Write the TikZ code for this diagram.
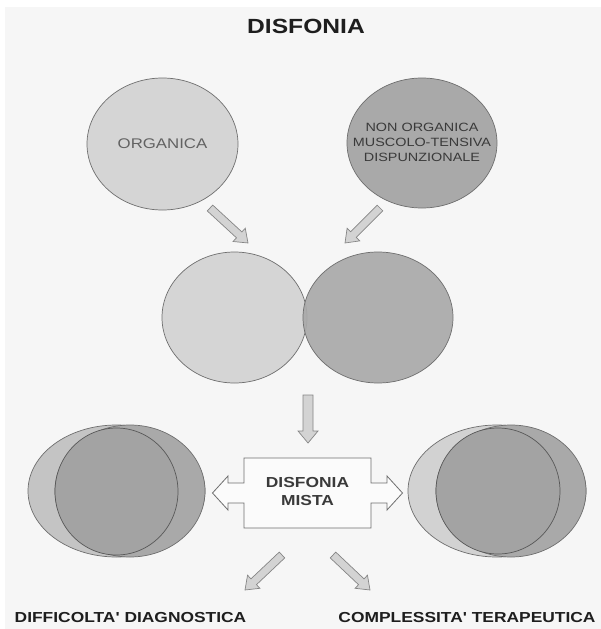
\documentclass[tikz,border=0pt]{standalone}
\usepackage{fontspec}
\usepackage{graphicx}
\setmainfont{Liberation Sans}
\usetikzlibrary{calc,shapes.geometric}
\definecolor{bgc}{HTML}{F6F6F6}
\definecolor{lightc}{HTML}{D5D5D5}
\definecolor{midc}{HTML}{C4C4C4}
\definecolor{darkc}{HTML}{A9A9A9}
\definecolor{innerc}{HTML}{A3A3A3}
\definecolor{edgec}{HTML}{6E6E6E}
\definecolor{arrowfill}{HTML}{D3D3D3}
\definecolor{arrowedge}{HTML}{858585}
\definecolor{titlec}{HTML}{1E1E1E}
\definecolor{txtc}{HTML}{3A3A3A}
\definecolor{txtlight}{HTML}{626262}
\newcommand\sx[1]{\scalebox{1.2}[1]{#1}}
\newcommand\blkarrow[5]{%
  \draw[blockarrow] let \p1=($(#2)-(#1)$), \n1={atan2(\y1,\x1)}, \n2={veclen(\x1,\y1)} in
  {[shift={(#1)}, rotate=\n1]
   (0pt,{-#3pt}) -- ({\n2-#5pt},{-#3pt}) -- ({\n2-#5pt},{-#4pt}) -- (\n2,0pt)
   -- ({\n2-#5pt},{#4pt}) -- ({\n2-#5pt},{#3pt}) -- (0pt,{#3pt}) -- cycle};}
\begin{document}
\begin{tikzpicture}[x=1pt,y=-1pt,
  blob/.style={ellipse, draw=edgec, line width=0.7pt, inner sep=0pt},
  blockarrow/.style={draw=arrowedge, fill=arrowfill, line width=0.7pt, line join=miter},
  lbl/.style={inner sep=0pt, align=center}]
\useasboundingbox (0,0) rectangle (601,629);
\fill[white] (0,0) rectangle (601,629);
\fill[bgc] (5,7) rectangle (601,629);

% title
\node[lbl, text=titlec] (title) at (306,26) {\sx{\fontsize{20.5}{24}\selectfont\bfseries DISFONIA}};

% top ellipses
\node[blob, fill=lightc, minimum width=151pt, minimum height=132pt] (org) at (162.5,144) {};
\node[lbl, text=txtlight] (orgt) at (org.center) {\sx{\fontsize{14}{16}\selectfont ORGANICA}};
\node[blob, fill=darkc, minimum width=150pt, minimum height=130pt] (non) at (422,143) {};
\node[lbl, text=txtc] (nont) at (non.center) {\sx{\fontsize{12}{15}\selectfont\begin{tabular}{@{}c@{}}NON ORGANICA\\MUSCOLO-TENSIVA\\DISPUNZIONALE\end{tabular}}};

% middle ellipses
\node[blob, fill=lightc, minimum width=145pt, minimum height=131pt] (ml) at (234.5,317.5) {};
\node[blob, fill=darkc, fill opacity=0.92, minimum width=150pt, minimum height=131pt] (mr) at (378,317.5) {};

% top arrows
\coordinate (a1s) at (210,208); \coordinate (a1e) at (248,243);
\coordinate (a2s) at (380,208); \coordinate (a2e) at (345,243);
\blkarrow{a1s}{a1e}{4}{9}{12}
\blkarrow{a2s}{a2e}{4}{9}{12}

% down arrow
\coordinate (a3s) at (308,395); \coordinate (a3e) at (308,443);
\blkarrow{a3s}{a3e}{5}{10}{12}

% box with double arrow
\coordinate (mc) at (307.5,493);
\begin{scope}[shift={(mc)}]
\draw[draw=edgec, fill=white!60!bgc, line width=0.8pt, line join=miter]
  (-63.5,-35) -- (63.5,-35) -- (63.5,-10) -- (79.5,-10) -- (79.5,-17) -- (95,0)
  -- (79.5,17) -- (79.5,10) -- (63.5,10) -- (63.5,35) -- (-63.5,35) -- (-63.5,10)
  -- (-79.5,10) -- (-79.5,17) -- (-95,0) -- (-79.5,-17) -- (-79.5,-10) -- (-63.5,-10) -- cycle;
\end{scope}
\node[lbl, text=txtc] (mista) at (mc) {\sx{\fontsize{14.5}{18}\selectfont\bfseries\begin{tabular}{@{}c@{}}DISFONIA\\MISTA\end{tabular}}};

% bottom left combination
\node[blob, fill=midc, minimum width=177pt, minimum height=132pt] (bl) at (116.5,491) {};
\node[blob, fill=darkc, minimum width=150pt, minimum height=132pt] (bld) at (130,491) {};
\node[blob, fill=innerc, draw=edgec!80!black, minimum width=123pt, minimum height=127pt] (bli) at (116.5,491.5) {};

% bottom right combination
\node[blob, fill=lightc!85!midc, minimum width=178pt, minimum height=132pt] (br) at (497,491) {};
\node[blob, fill=darkc, minimum width=150pt, minimum height=132pt] (brd) at (511,491) {};
\node[blob, fill=innerc, draw=edgec!80!black, minimum width=124pt, minimum height=126pt] (bri) at (498,491) {};

% bottom arrows
\coordinate (a4s) at (282,555); \coordinate (a4e) at (245,590);
\coordinate (a5s) at (333,555); \coordinate (a5e) at (370,590);
\blkarrow{a4s}{a4e}{4}{9}{12}
\blkarrow{a5s}{a5e}{4}{9}{12}

% bottom labels
\node[lbl, text=titlec] (diff) at (130.5,618) {\sx{\fontsize{14.5}{17}\selectfont\bfseries DIFFICOLTA\textquotesingle{} DIAGNOSTICA}};
\node[lbl, text=titlec] (comp) at (467,618) {\sx{\fontsize{14.5}{17}\selectfont\bfseries COMPLESSITA\textquotesingle{} TERAPEUTICA}};
\end{tikzpicture}
\end{document}
